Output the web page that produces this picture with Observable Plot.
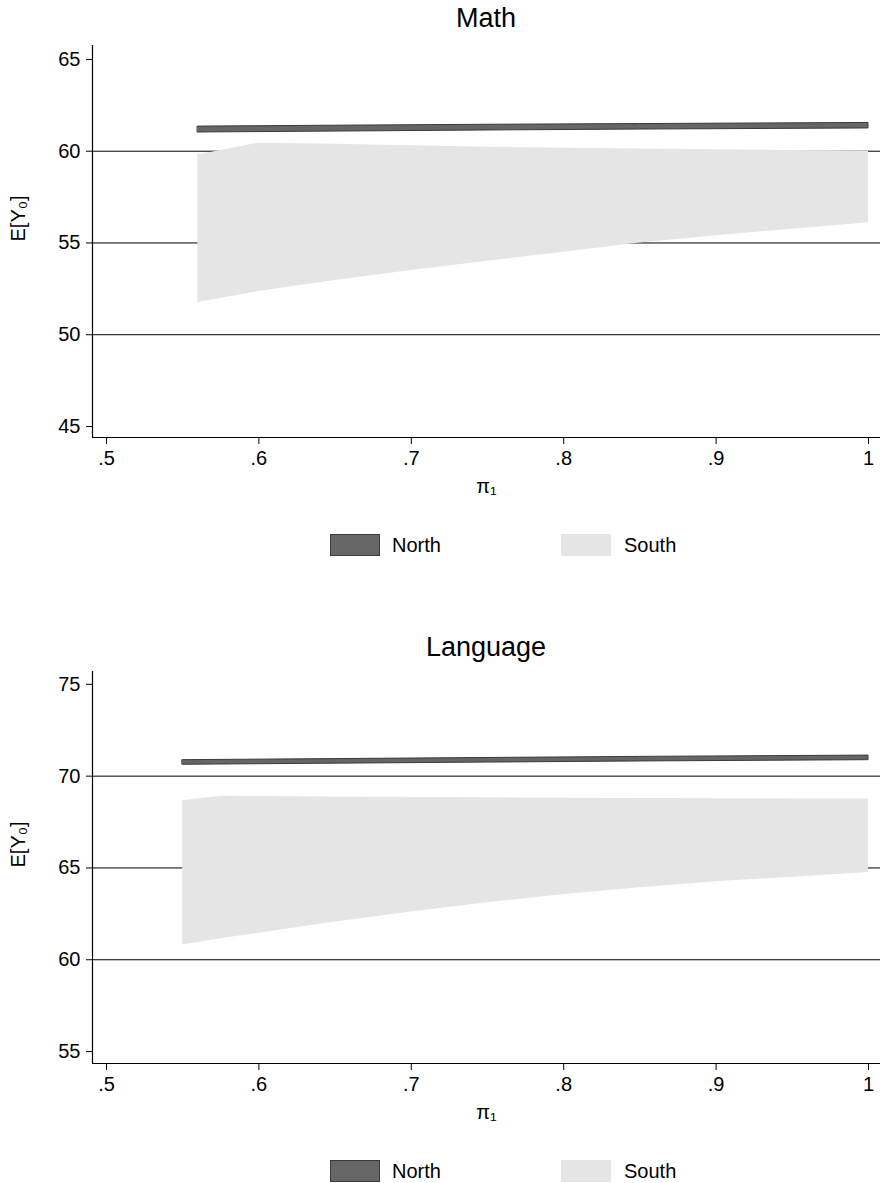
<!DOCTYPE html>
<html><head><meta charset="utf-8">
<script src="https://cdn.jsdelivr.net/npm/d3@7"></script>
<script src="https://cdn.jsdelivr.net/npm/@observablehq/plot@0.6"></script>
<style>
body{margin:0;background:#fff;font-family:"Liberation Sans",Arial,Helvetica,sans-serif;}
#wrap{position:relative;width:880px;height:1183px;overflow:hidden;}
.title{position:absolute;left:92px;width:788px;text-align:center;font-size:27px;line-height:36px;color:#000;}
.plot{position:absolute;left:0;}
.legend{position:absolute;left:0;width:880px;height:22px;font-size:20px;color:#000;}
.sw{position:absolute;top:0;width:50px;height:22px;box-sizing:border-box;}
.lt{position:absolute;top:0;line-height:22px;}
</style></head><body><div id="wrap"></div>
<script>
// ---- data ----
const titles = ["Math", "Language"];
const seriesNames = ["North", "South"];
const xTicks = [0.5, 0.6, 0.7, 0.8, 0.9, 1];

// Math
const mathNorthPi = [0.56, 0.65, 0.75, 0.85, 1];
const mathNorthLo = [61.02, 61.07, 61.13, 61.18, 61.24];
const mathNorthHi = [61.34, 61.39, 61.44, 61.48, 61.54];
const mathSouthPi = [0.56, 0.58, 0.6, 0.65, 0.7, 0.75, 0.8, 0.85, 0.9, 0.95, 1];
const mathSouthLo = [51.75, 52.05, 52.35, 52.95, 53.5, 54.0, 54.5, 55.0, 55.4, 55.75, 56.1];
const mathSouthHi = [59.8, 60.12, 60.44, 60.38, 60.3, 60.22, 60.16, 60.12, 60.08, 60.04, 60.0];
const mathYTicks = [45, 50, 55, 60, 65];
const mathGrid = [50, 55, 60];
const mathYDomain = [44.4, 65.76];

// Language
const langNorthPi = [0.55, 0.65, 0.75, 0.85, 1];
const langNorthLo = [70.62, 70.68, 70.74, 70.8, 70.87];
const langNorthHi = [70.87, 70.93, 70.99, 71.05, 71.12];
const langSouthPi = [0.55, 0.575, 0.6, 0.65, 0.7, 0.75, 0.8, 0.85, 0.9, 0.95, 1];
const langSouthLo = [60.8, 61.15, 61.45, 62.05, 62.6, 63.1, 63.55, 63.92, 64.25, 64.5, 64.75];
const langSouthHi = [68.66, 68.9, 68.89, 68.86, 68.84, 68.82, 68.8, 68.78, 68.77, 68.76, 68.75];
const langYTicks = [55, 60, 65, 70, 75];
const langGrid = [60, 65, 70];
const langYDomain = [54.35, 75.7];

const xDomain = [0.49081, 1.00787];
const FONT = '"Liberation Sans", Arial, Helvetica, sans-serif';

function rows(pi, lo, hi) { return pi.map((p, i) => ({pi: p, lo: lo[i], hi: hi[i]})); }

function panel(cfg) {
  const north = rows(cfg.nPi, cfg.nLo, cfg.nHi);
  const south = rows(cfg.sPi, cfg.sLo, cfg.sHi);
  return Plot.plot({
    width: 880, height: 482,
    marginTop: 15, marginBottom: 75, marginLeft: 92, marginRight: 0,
    style: {fontFamily: FONT, fontSize: "20px", color: "#000", background: "transparent", overflow: "visible"},
    x: {domain: xDomain},
    y: {domain: cfg.yDomain},
    marks: [
      Plot.ruleY(cfg.grid, {stroke: "#000", strokeWidth: 1}),
      Plot.areaY(south, {x: "pi", y1: "lo", y2: "hi", fill: "#e5e5e5"}),
      Plot.areaY(north, {x: "pi", y1: "lo", y2: "hi", fill: "#666666", stroke: "#3a3a3a", strokeWidth: 1}),
      Plot.ruleX([xDomain[0]], {stroke: "#000", strokeWidth: 1.2}),
      Plot.ruleY([cfg.yDomain[0]], {stroke: "#000", strokeWidth: 1.2}),
      Plot.axisY({ticks: cfg.yTicks, tickSize: 6, tickPadding: 6, label: null, fontSize: 20}),
      Plot.axisX({ticks: xTicks, tickSize: 7, tickPadding: 6, label: null, fontSize: 20,
        tickFormat: d => d === 1 ? "1" : String(d).replace(/^0/, "")}),
      Plot.text(["E[Y\u2080]"], {text: d => d, frameAnchor: "left", dx: -74, rotate: -90, fontSize: 20}),
      Plot.text(["\u03c0\u2081"], {text: d => d, frameAnchor: "bottom", dy: 55, fontSize: 20})
    ]
  });
}

const wrap = document.getElementById("wrap");
const configs = [
  {title: titles[0], off: 0, titleTop: 0, nPi: mathNorthPi, nLo: mathNorthLo, nHi: mathNorthHi,
   sPi: mathSouthPi, sLo: mathSouthLo, sHi: mathSouthHi, yTicks: mathYTicks, grid: mathGrid, yDomain: mathYDomain},
  {title: titles[1], off: 626, titleTop: 629, nPi: langNorthPi, nLo: langNorthLo, nHi: langNorthHi,
   sPi: langSouthPi, sLo: langSouthLo, sHi: langSouthHi, yTicks: langYTicks, grid: langGrid, yDomain: langYDomain}
];

for (const cfg of configs) {
  const t = document.createElement("div");
  t.className = "title"; t.style.top = cfg.titleTop + "px"; t.textContent = cfg.title;
  wrap.appendChild(t);

  const holder = document.createElement("div");
  holder.className = "plot"; holder.style.top = (cfg.off + 30) + "px";
  holder.appendChild(panel(cfg));
  wrap.appendChild(holder);

  const lg = document.createElement("div");
  lg.className = "legend"; lg.style.top = (cfg.off + 534) + "px";
  const swN = document.createElement("div");
  swN.className = "sw"; swN.style.left = "330px"; swN.style.background = "#666666"; swN.style.border = "1px solid #3a3a3a";
  const ltN = document.createElement("div");
  ltN.className = "lt"; ltN.style.left = "392px"; ltN.textContent = seriesNames[0];
  const swS = document.createElement("div");
  swS.className = "sw"; swS.style.left = "561px"; swS.style.background = "#e5e5e5";
  const ltS = document.createElement("div");
  ltS.className = "lt"; ltS.style.left = "624px"; ltS.textContent = seriesNames[1];
  lg.append(swN, ltN, swS, ltS);
  wrap.appendChild(lg);
}
</script>
</body></html>
